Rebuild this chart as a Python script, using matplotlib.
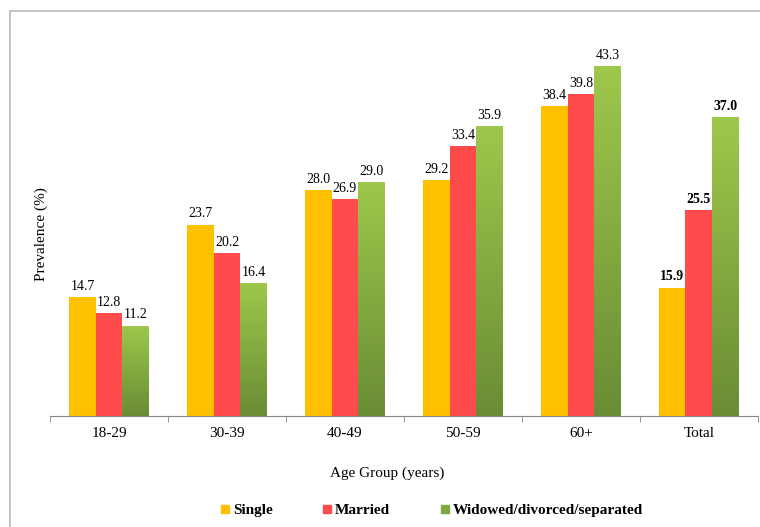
import matplotlib.pyplot as plt
import numpy as np
from matplotlib.lines import Line2D
from matplotlib.colors import LinearSegmentedColormap

plt.rcParams['font.family'] = 'Liberation Serif'

groups = ['18-29', '30-39', '40-49', '50-59', '60+', 'Total']
series = ['Single', 'Married', 'Widowed/divorced/separated']
single = [14.7, 23.7, 28.0, 29.2, 38.4, 15.9]
married = [12.8, 20.2, 26.9, 33.4, 39.8, 25.5]
widowed = [11.2, 16.4, 29.0, 35.9, 43.3, 37.0]

yellow = '#FFC000'
red = '#FF4B4B'
green_top = '#9DC84B'
green_bot = '#6A8C35'

fig = plt.figure(figsize=(7.6, 5.27), dpi=100, facecolor='w')
ax = fig.add_axes([0.066, 0.2106, 0.931, 0.69])

x = np.arange(len(groups))
w = 0.225
b1 = ax.bar(x - w, single, w, color=yellow, zorder=2)
b2 = ax.bar(x, married, w, color=red, zorder=2)
b3 = ax.bar(x + w, widowed, w, color=green_top, zorder=2)

# vertical gradient on the green bars
grad = np.linspace(1, 0, 256).reshape(-1, 1)
cmap = LinearSegmentedColormap.from_list('g', [green_bot, green_top])
for bar in b3:
    bx, by = bar.get_x(), bar.get_y()
    bw, bh = bar.get_width(), bar.get_height()
    im = ax.imshow(grad, cmap=cmap, aspect='auto', extent=[bx, bx + bw, by, by + bh],
                   zorder=3, origin='upper')
    im.set_clip_path(bar)

for bars, vals in [(b1, single), (b2, married), (b3, widowed)]:
    for i, (bar, v) in enumerate(zip(bars, vals)):
        ax.text(bar.get_x() + bar.get_width() / 2, v + 0.5, f'{v:.1f}',
                ha='center', va='bottom', fontsize=10,
                fontweight='bold' if groups[i] == 'Total' else 'normal', zorder=4)

ax.set_xlim(-0.5, len(groups) - 0.5)
ax.set_ylim(0, 45)
ax.set_yticks([])
for s in ['top', 'right', 'left']:
    ax.spines[s].set_visible(False)
ax.spines['bottom'].set_color('#888888')
ax.set_xticks(x)
ax.set_xticklabels(groups, fontsize=11)
ax.set_xticks(np.arange(len(groups) + 1) - 0.5, minor=True)
ax.tick_params(axis='x', which='major', length=0, pad=8)
ax.tick_params(axis='x', which='minor', length=4, color='#888888')
ax.set_ylabel('Prevalence (%)', fontsize=11)
ax.yaxis.set_label_coords(-0.003, 0.5)
ax.set_xlabel('Age Group (years)', fontsize=11)
ax.xaxis.set_label_coords(0.477, -0.14)

handles = [Line2D([], [], marker='s', ls='', color=c, markersize=6)
           for c in [yellow, red, '#7FA83F']]
fig.legend(handles, series, loc='center left', bbox_to_anchor=(0.27, 0.032),
           ncol=3, frameon=False, prop={'weight': 'bold', 'size': 11},
           handletextpad=0.1, columnspacing=3.2, handlelength=0.8)

# outer frame (only left and top visible)
fig.add_artist(Line2D([10 / 760, 10 / 760], [0, 1 - 11 / 527], color='#BBBBBB', lw=1.2))
fig.add_artist(Line2D([10 / 760, 1], [1 - 11 / 527, 1 - 11 / 527], color='#BBBBBB', lw=1.2))

fig.savefig('out.png', dpi=100)
